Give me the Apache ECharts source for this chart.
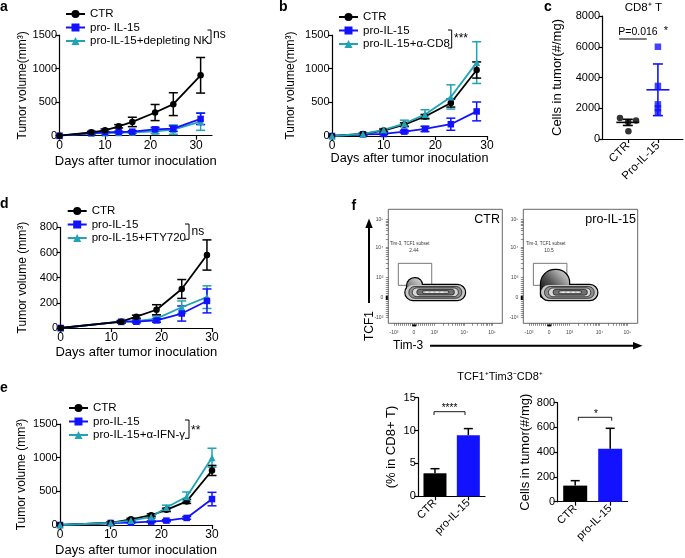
<!DOCTYPE html>
<html><head><meta charset="utf-8">
<script src="https://cdn.jsdelivr.net/npm/echarts@6/dist/echarts.min.js"></script>
<style>html,body{margin:0;padding:0;background:#fff}#c{width:685px;height:558px}</style>
</head><body><div id="c"></div>
<script>
// ---------- Panel a ----------
const aDays = [0, 7, 10, 13, 16, 21, 25, 31];
const aCTR = [0, 50, 80, 140, 205, 345, 470, 900];
const aCTRErr = [0, 15, 20, 25, 70, 120, 170, 265];
const aPro = [0, 40, 50, 55, 60, 95, 105, 250];
const aProErr = [0, 10, 10, 12, 15, 30, 40, 85];
const aNK = [0, 35, 40, 45, 50, 65, 90, 210];
const aNKErr = [0, 10, 10, 12, 15, 35, 70, 130];
const aNames = ['CTR', 'pro- IL-15', 'pro-IL-15+depleting NK'];
// ---------- Panel b ----------
const bDays = [0, 6, 10, 14, 18, 23, 28];
const bCTR = [0, 30, 80, 170, 290, 490, 980];
const bCTRErr = [0, 10, 20, 25, 30, 60, 120];
const bPro = [0, 25, 30, 65, 105, 175, 365];
const bProErr = [0, 10, 10, 20, 40, 90, 140];
const bCD8 = [0, 30, 90, 185, 320, 580, 1090];
const bCD8Err = [0, 10, 20, 50, 70, 180, 310];
const bNames = ['CTR', 'pro-IL-15', 'pro-IL-15+α-CD8'];
// ---------- Panel c ----------
const cGroups = ['CTR', 'Pro-IL-15'];
const cCTRPoints = [1360, 1100, 1210, 500];
const cProPoints = [6000, 3450, 2250, 2000, 1750];
const cMean = [1080, 3200];
const cSD = [200, 1680];
// ---------- Panel d ----------
const dDays = [0, 12, 15, 19, 24, 29];
const dCTR = [0, 50, 90, 145, 310, 580];
const dCTRErr = [0, 10, 12, 40, 75, 120];
const dPro = [0, 50, 50, 60, 115, 215];
const dProErr = [0, 8, 10, 15, 60, 95];
const dFTY = [0, 50, 55, 75, 165, 245];
const dFTYErr = [0, 8, 10, 20, 50, 90];
const dNames = ['CTR', 'pro-IL-15', 'pro-IL-15+FTY720'];
// ---------- Panel e ----------
const eDays = [0, 10, 14, 18, 21, 25, 30];
const eCTR = [0, 30, 85, 145, 225, 350, 810];
const eCTRErr = [0, 10, 15, 20, 25, 30, 75];
const ePro = [0, 30, 35, 50, 65, 105, 385];
const eProErr = [0, 10, 10, 12, 15, 20, 100];
const eIFN = [0, 30, 65, 120, 260, 420, 1000];
const eIFNErr = [0, 10, 15, 20, 35, 70, 140];
const eNames = ['CTR', 'pro-IL-15', 'pro-IL-15+α-IFN-γ'];
// ---------- Panel f bars ----------
const fGroups = ['CTR', 'pro-IL-15'];
const fPct = [3.5, 9.3];
const fPctErr = [0.7, 1.0];
const fCells = [130, 428];
const fCellsErr = [40, 165];
// ---------- Panel f flow plots (display units 0-100) ----------
const flowTickLabels = ['-10³', '0', '10³', '10⁴', '10⁵'];
const flowTickPos = [5, 22.5, 40.5, 66.7, 91];
const flowCtrBody = [[15, 67.3, 20.5, 33.6], [18, 64.5, 22, 32.3], [21, 61.5, 23.4, 31], [25, 58, 24.8, 29.8], [30, 53, 26, 28.6]];
const flowCtrBump = [16.5, 29.5, 26, 39.5];
const flowProBody = [[15.5, 64.7, 20.4, 33.6], [18.5, 62, 21.9, 32.3], [22, 59, 23.3, 31], [26, 56, 24.7, 29.8], [31, 51, 25.9, 28.6]];
const flowProBump = [15.5, 40, 23, 46.8];
const flowGate = [8.8, 38.1, 33.3, 52.6];
const flowGateValues = ['2.44', '10.5'];

// layout / style
const FONT = 'Arial, "Liberation Sans", sans-serif';
const BLACK = '#000', BLUE = '#1212ff', TEAL = '#1fa3b5';
const cX = [1.25, 2.75];
const cJitter = [-0.39, 0.02, 0.41, 0.03];
const barColors = [BLACK, BLUE];

const chart = echarts.init(document.getElementById('c'), null, {renderer: 'canvas'});

const axLine = {show: true, onZero: false, lineStyle: {color: '#000', width: 1.2}};
const axTick = (vals) => ({show: true, length: 4, customValues: vals, lineStyle: {color: '#000', width: 1.2}});
const dayTicks = [0, 10, 20, 30];
const plain = (v) => String(v);

function lineX(gi, max, nameGap, nameSize) {
  return {type: 'value', gridIndex: gi, min: 0, max: max, name: 'Days after tumor inoculation',
    nameLocation: 'middle', nameGap: nameGap, nameTextStyle: {fontSize: nameSize, color: '#000', fontFamily: FONT},
    axisLine: axLine, axisTick: axTick(dayTicks),
    axisLabel: {customValues: dayTicks, fontSize: 12, color: '#000', margin: 3.5, formatter: plain},
    splitLine: {show: false}};
}
function lineY(gi, max, interval, name, nameGap, nameSize) {
  return {type: 'value', gridIndex: gi, min: 0, max: max, interval: interval, name: name,
    nameLocation: 'middle', nameGap: nameGap, nameTextStyle: {fontSize: nameSize || 12, color: '#000', fontFamily: FONT},
    axisLine: axLine, axisTick: {show: true, length: 4, lineStyle: {color: '#000', width: 1.2}},
    axisLabel: {fontSize: 11, color: '#000', margin: 2.5, formatter: plain},
    splitLine: {show: false}};
}
function nearestIdx(v) {
  let best = 0;
  flowTickPos.forEach((p, i) => { if (Math.abs(p - v) < Math.abs(flowTickPos[best] - v)) best = i; });
  return best;
}
// minor ticks of biexponential display axis
const flowMinor = [];
for (let k = 0; k <= 20; k++) flowMinor.push(5 + k * (40.5 - 5) / 20);
[[40.5, 26.2], [66.7, 24.3]].forEach(([s, d]) => { for (let m = 2; m <= 10; m++) flowMinor.push(s + Math.log10(m) * d); });
function flowAxis(gi, isX) {
  return {type: 'value', gridIndex: gi, min: 0, max: 100,
    axisLine: {show: false}, splitLine: {show: false},
    axisTick: {show: true, length: 2.5, customValues: flowMinor, lineStyle: {color: '#444', width: 0.6}},
    axisLabel: {customValues: flowTickPos, fontSize: 5, color: '#444', margin: isX ? 6.5 : 5,
      formatter: (v) => flowTickLabels[nearestIdx(v)]}};
}
function barX(gi) {
  return {type: 'category', gridIndex: gi, data: fGroups, boundaryGap: true,
    axisLine: axLine, axisTick: {show: true, alignWithLabel: true, length: 4, lineStyle: {color: '#000', width: 1.2}},
    axisLabel: {rotate: 45, fontSize: 11, color: '#000', margin: 5}};
}

function lineSeries(name, gi, xs, ys, color, symbol) {
  return {type: 'line', name: name, xAxisIndex: gi, yAxisIndex: gi, data: xs.map((x, i) => [x, ys[i]]),
    symbol: symbol, symbolSize: symbol === 'triangle' ? 7 : 6.5, showSymbol: true,
    lineStyle: {color: color, width: 1.8}, itemStyle: {color: color}, z: 4, animation: false};
}
function errSeries(gi, xs, ys, errs, color, upperOnly) {
  return {type: 'custom', xAxisIndex: gi, yAxisIndex: gi, silent: true, z: 3, animation: false,
    data: xs.map((x, i) => [x, ys[i], errs[i]]),
    renderItem: function (params, api) {
      const x = api.value(0), y = api.value(1), e = api.value(2);
      if (!e) return null;
      const hi = api.coord([x, y + e]);
      const lo = api.coord([x, upperOnly ? y : y - e]);
      const w = 4.5;
      const st = {stroke: color, lineWidth: 1.5};
      const ch = [
        {type: 'line', shape: {x1: lo[0], y1: lo[1], x2: hi[0], y2: hi[1]}, style: st},
        {type: 'line', shape: {x1: hi[0] - w, y1: hi[1], x2: hi[0] + w, y2: hi[1]}, style: st}];
      if (!upperOnly) ch.push({type: 'line', shape: {x1: lo[0] - w, y1: lo[1], x2: lo[0] + w, y2: lo[1]}, style: st});
      return {type: 'group', children: ch};
    }};
}
function legend(names, left, top) {
  return {data: names, orient: 'vertical', left: left, top: top, padding: 0, itemGap: 1.5,
    itemWidth: 19, itemHeight: 10, textStyle: {fontSize: 11.5, color: '#000', fontFamily: FONT}, selectedMode: false};
}

function flowRender(body, bump, bumpFill, bodyFill) {
  return function (params, api) {
    const rr = (b) => {
      const p1 = api.coord([b[0], b[3]]), p2 = api.coord([b[1], b[2]]);
      return {x: p1[0], y: p1[1], width: p2[0] - p1[0], height: p2[1] - p1[1]};
    };
    const ch = [];
    const g = rr(flowGate);
    ch.push({type: 'rect', shape: g, style: {fill: 'none', stroke: '#555', lineWidth: 0.8}});
    const o = rr(body[0]); o.r = o.height / 2;
    const bp = rr(bump); const rt = Math.min(bp.width / 2, bp.height); bp.r = [rt, rt * 0.9, 2, 2];
    ch.push({type: 'rect', shape: bp, style: {fill: '#000', stroke: '#000', lineWidth: 2.4}});
    ch.push({type: 'rect', shape: o, style: {fill: '#000', stroke: '#000', lineWidth: 2.4}});
    ch.push({type: 'rect', shape: bp, style: {fill: bumpFill, stroke: null}});
    ch.push({type: 'rect', shape: o, style: {fill: bodyFill[0], stroke: null}});
    for (let i = 1; i < body.length; i++) {
      const s = rr(body[i]); s.r = s.height / 2;
      ch.push({type: 'rect', shape: s, style: {fill: bodyFill[i], stroke: '#222', lineWidth: 0.8}});
    }
    const inner = rr(body[body.length - 1]);
    ch.push({type: 'line', shape: {x1: inner.x + 3, y1: inner.y + inner.height / 2, x2: inner.x + inner.width - 3, y2: inner.y + inner.height / 2},
      style: {stroke: '#fff', lineWidth: 1, lineDash: [3, 2]}});
    // events piled on the axes
    const a1 = api.coord([-2.2, 24]);
    ch.push({type: 'rect', shape: {x: a1[0], y: a1[1], width: 2, height: 4}, style: {fill: '#000'}});
    const a2 = api.coord([21, -1]);
    ch.push({type: 'rect', shape: {x: a2[0], y: a2[1], width: 4, height: 2}, style: {fill: '#000'}});
    return {type: 'group', children: ch};
  };
}
const bodyFills = ['#c9c9c9', '#8f8f8f', '#d6d6d6', '#707070', '#bdbdbd'];
const ctrBumpFill = {type: 'linear', x: 0, y: 1, x2: 1, y2: 0, colorStops: [{offset: 0, color: '#555'}, {offset: 1, color: '#e0e0e0'}]};
const proBumpFill = {type: 'linear', x: 0, y: 1, x2: 1, y2: 0, colorStops: [{offset: 0, color: '#000'}, {offset: 0.45, color: '#555'}, {offset: 1, color: '#ececec'}]};

const option = {
  animation: false,
  textStyle: {fontFamily: FONT, color: '#000'},
  grid: [
    {left: 59.5, top: 35, width: 152.5, height: 100.7},
    {left: 332, top: 35, width: 155, height: 101},
    {left: 602.7, top: 16, width: 80.3, height: 123},
    {left: 60.7, top: 227.3, width: 151.3, height: 100.7},
    {left: 60, top: 424, width: 152, height: 101.3},
    {left: 388.3, top: 209.3, width: 114, height: 114, show: true, borderColor: '#666', borderWidth: 1},
    {left: 523.3, top: 209.3, width: 114.4, height: 114, show: true, borderColor: '#666', borderWidth: 1},
    {left: 418.3, top: 397.7, width: 66.7, height: 98.6},
    {left: 557.7, top: 402.7, width: 70, height: 99}
  ],
  xAxis: [
    lineX(0, 33.5, 19.5, 13),
    lineX(1, 30, 11, 12.7),
    {type: 'value', gridIndex: 2, min: 0, max: 4, axisLine: axLine, axisTick: axTick(cX),
      axisLabel: {customValues: cX, rotate: 45, fontSize: 11.5, color: '#000', margin: 5,
        formatter: (v) => cGroups[v < 2 ? 0 : 1]}, splitLine: {show: false}},
    lineX(3, 30, 17.5, 13),
    lineX(4, 30, 19, 13),
    flowAxis(5, true), flowAxis(6, true),
    barX(7), barX(8)
  ],
  yAxis: [
    lineY(0, 1500, 500, 'Tumor volume(mm³)', 31),
    lineY(1, 1500, 500, 'Tumor volume(mm³)', 35),
    lineY(2, 8000, 2000, 'Cells in tumor(#/mg)', 39, 13),
    lineY(3, 800, 200, 'Tumor volume (mm³)', 32.5),
    lineY(4, 1500, 500, 'Tumor volume (mm³)', 32),
    flowAxis(5, false), flowAxis(6, false),
    lineY(7, 15, 5, '(% in CD8+ T)', 20, 13),
    lineY(8, 800, 200, 'Cells in tumor(#/mg)', 26, 13)
  ],
  legend: [
    legend(aNames, 65, 8),
    legend(bNames, 338, 11),
    legend(dNames, 66.7, 205),
    legend(eNames, 68, 402)
  ],
  series: [
    // a
    errSeries(0, aDays, aNK, aNKErr, TEAL), errSeries(0, aDays, aPro, aProErr, BLUE), errSeries(0, aDays, aCTR, aCTRErr, BLACK),
    lineSeries(aNames[2], 0, aDays, aNK, TEAL, 'triangle'),
    lineSeries(aNames[1], 0, aDays, aPro, BLUE, 'rect'),
    lineSeries(aNames[0], 0, aDays, aCTR, BLACK, 'circle'),
    // b
    errSeries(1, bDays, bCD8, bCD8Err, TEAL), errSeries(1, bDays, bPro, bProErr, BLUE), errSeries(1, bDays, bCTR, bCTRErr, BLACK),
    lineSeries(bNames[1], 1, bDays, bPro, BLUE, 'rect'),
    lineSeries(bNames[0], 1, bDays, bCTR, BLACK, 'circle'),
    lineSeries(bNames[2], 1, bDays, bCD8, TEAL, 'triangle'),
    // c
    {type: 'custom', xAxisIndex: 2, yAxisIndex: 2, silent: true, z: 3,
      data: cMean.map((m, i) => [cX[i], m, cSD[i]]),
      renderItem: function (params, api) {
        const x = api.value(0), m = api.value(1), s = api.value(2);
        const pm = api.coord([x, m]), hi = api.coord([x, m + s]), lo = api.coord([x, m - s]);
        const col = barColors[params.dataIndex];
        const st = {stroke: col, lineWidth: 1.6};
        return {type: 'group', children: [
          {type: 'line', shape: {x1: pm[0] - 11.5, y1: pm[1], x2: pm[0] + 11.5, y2: pm[1]}, style: st},
          {type: 'line', shape: {x1: lo[0], y1: lo[1], x2: hi[0], y2: hi[1]}, style: st},
          {type: 'line', shape: {x1: hi[0] - 5, y1: hi[1], x2: hi[0] + 5, y2: hi[1]}, style: st},
          {type: 'line', shape: {x1: lo[0] - 5, y1: lo[1], x2: lo[0] + 5, y2: lo[1]}, style: st}]};
      }},
    {type: 'scatter', name: 'c_CTR', xAxisIndex: 2, yAxisIndex: 2, symbol: 'circle', symbolSize: 6.5,
      itemStyle: {color: BLACK}, z: 4, data: cCTRPoints.map((v, i) => [cX[0] + cJitter[i], v])},
    {type: 'scatter', name: 'c_Pro', xAxisIndex: 2, yAxisIndex: 2, symbol: 'rect', symbolSize: 6.5,
      itemStyle: {color: BLUE}, z: 4, data: cProPoints.map((v) => [cX[1], v])},
    // d
    errSeries(3, dDays, dFTY, dFTYErr, TEAL), errSeries(3, dDays, dPro, dProErr, BLUE), errSeries(3, dDays, dCTR, dCTRErr, BLACK),
    lineSeries(dNames[2], 3, dDays, dFTY, TEAL, 'triangle'),
    lineSeries(dNames[1], 3, dDays, dPro, BLUE, 'rect'),
    lineSeries(dNames[0], 3, dDays, dCTR, BLACK, 'circle'),
    // e
    errSeries(4, eDays, eIFN, eIFNErr, TEAL), errSeries(4, eDays, ePro, eProErr, BLUE), errSeries(4, eDays, eCTR, eCTRErr, BLACK),
    lineSeries(eNames[1], 4, eDays, ePro, BLUE, 'rect'),
    lineSeries(eNames[0], 4, eDays, eCTR, BLACK, 'circle'),
    lineSeries(eNames[2], 4, eDays, eIFN, TEAL, 'triangle'),
    // f flow
    {type: 'custom', xAxisIndex: 5, yAxisIndex: 5, silent: true, data: [[0, 0]], clip: false,
      renderItem: flowRender(flowCtrBody, flowCtrBump, ctrBumpFill, bodyFills)},
    {type: 'custom', xAxisIndex: 6, yAxisIndex: 6, silent: true, data: [[0, 0]], clip: false,
      renderItem: flowRender(flowProBody, flowProBump, proBumpFill, bodyFills)},
    // f bars
    {type: 'bar', xAxisIndex: 7, yAxisIndex: 7, barWidth: 23, z: 2,
      data: fPct.map((v, i) => ({value: v, itemStyle: {color: barColors[i]}}))},
    errSeries(7, [0, 1], fPct, fPctErr, BLACK, true),
    {type: 'bar', xAxisIndex: 8, yAxisIndex: 8, barWidth: 24, z: 2,
      data: fCells.map((v, i) => ({value: v, itemStyle: {color: barColors[i]}}))},
    errSeries(8, [0, 1], fCells, fCellsErr, BLACK, true)
  ],
  graphic: {elements: [
    // panel letters
    {type: 'text', x: 0, y: 7, style: {text: 'a', font: 'bold 14px ' + FONT, fill: '#000', verticalAlign: 'middle'}},
    {type: 'text', x: 279, y: 7.5, style: {text: 'b', font: 'bold 14px ' + FONT, fill: '#000', verticalAlign: 'middle'}},
    {type: 'text', x: 544, y: 7, style: {text: 'c', font: 'bold 14px ' + FONT, fill: '#000', verticalAlign: 'middle'}},
    {type: 'text', x: 0, y: 204, style: {text: 'd', font: 'bold 14px ' + FONT, fill: '#000', verticalAlign: 'middle'}},
    {type: 'text', x: 0, y: 388, style: {text: 'e', font: 'bold 14px ' + FONT, fill: '#000', verticalAlign: 'middle'}},
    {type: 'text', x: 351.5, y: 206, style: {text: 'f', font: 'bold 14px ' + FONT, fill: '#000', verticalAlign: 'middle'}},
    // significance brackets on line charts
    {type: 'polyline', shape: {points: [[207.5, 30], [211, 30], [211, 43.3], [207.5, 43.3]]}, style: {stroke: '#000', lineWidth: 1, fill: null}},
    {type: 'text', x: 213, y: 35, style: {text: 'ns', font: '12px ' + FONT, fill: '#000', verticalAlign: 'middle'}},
    {type: 'polyline', shape: {points: [[448, 30], [451.7, 30], [451.7, 48], [448, 48]]}, style: {stroke: '#000', lineWidth: 1, fill: null}},
    {type: 'text', x: 454, y: 39, style: {text: '***', font: '12px ' + FONT, fill: '#000', verticalAlign: 'middle'}},
    {type: 'polyline', shape: {points: [[185, 224], [189, 224], [189, 239.3], [185, 239.3]]}, style: {stroke: '#000', lineWidth: 1, fill: null}},
    {type: 'text', x: 191.5, y: 231.5, style: {text: 'ns', font: '12px ' + FONT, fill: '#000', verticalAlign: 'middle'}},
    {type: 'polyline', shape: {points: [[185, 420], [189, 420], [189, 438.3], [185, 438.3]]}, style: {stroke: '#000', lineWidth: 1, fill: null}},
    {type: 'text', x: 191, y: 431, style: {text: '**', font: '12px ' + FONT, fill: '#000', verticalAlign: 'middle'}},
    // panel c annotations
    {type: 'text', x: 643.3, y: 7.5, style: {text: 'CD8⁺ T', font: '11.5px ' + FONT, fill: '#000', align: 'center', verticalAlign: 'middle'}},
    {type: 'text', x: 638, y: 32, style: {text: 'P=0.016', font: '10.5px ' + FONT, fill: '#000', align: 'center', verticalAlign: 'middle'}},
    {type: 'line', shape: {x1: 619.3, y1: 39, x2: 646.7, y2: 39}, style: {stroke: '#000', lineWidth: 1}},
    {type: 'text', x: 666, y: 31, style: {text: '*', font: '11px ' + FONT, fill: '#000', align: 'center', verticalAlign: 'middle'}},
    // panel f flow annotations
    {type: 'text', x: 500, y: 220, style: {text: 'CTR', font: '12.5px ' + FONT, fill: '#000', align: 'right', verticalAlign: 'middle'}},
    {type: 'text', x: 636, y: 219.5, style: {text: 'pro-IL-15', font: '12.5px ' + FONT, fill: '#000', align: 'right', verticalAlign: 'middle'}},
    {type: 'text', x: 390, y: 243.3, style: {text: 'Tim-3, TCF1 subset', font: '4.5px ' + FONT, fill: '#333', verticalAlign: 'middle'}},
    {type: 'text', x: 414, y: 250.7, style: {text: flowGateValues[0], font: '4.8px ' + FONT, fill: '#333', align: 'center', verticalAlign: 'middle'}},
    {type: 'text', x: 526, y: 243.3, style: {text: 'Tim-3, TCF1 subset', font: '4.5px ' + FONT, fill: '#333', verticalAlign: 'middle'}},
    {type: 'text', x: 549, y: 250.7, style: {text: flowGateValues[1], font: '4.8px ' + FONT, fill: '#333', align: 'center', verticalAlign: 'middle'}},
    {type: 'line', shape: {x1: 369, y1: 303, x2: 369, y2: 226}, style: {stroke: '#000', lineWidth: 2}},
    {type: 'polygon', shape: {points: [[369, 218.5], [365.3, 228], [372.7, 228]]}, style: {fill: '#000'}},
    {type: 'text', x: 369.3, y: 326, rotation: Math.PI / 2, style: {text: 'TCF1', font: '12px ' + FONT, fill: '#000', align: 'center', verticalAlign: 'middle'}},
    {type: 'text', x: 393, y: 346, style: {text: 'Tim-3', font: '12px ' + FONT, fill: '#000', verticalAlign: 'middle'}},
    {type: 'line', shape: {x1: 430, y1: 345.7, x2: 635, y2: 345.7}, style: {stroke: '#000', lineWidth: 2}},
    {type: 'polygon', shape: {points: [[642.5, 345.7], [633, 342], [633, 349.4]]}, style: {fill: '#000'}},
    // bar annotations
    {type: 'text', x: 500, y: 377.3, style: {text: 'TCF1⁺Tim3⁻CD8⁺', font: '11px ' + FONT, fill: '#000', align: 'center', verticalAlign: 'middle'}},
    {type: 'polyline', shape: {points: [[434, 415], [434, 411.7], [465, 411.7], [465, 415]]}, style: {stroke: '#000', lineWidth: 0.9, fill: null}},
    {type: 'text', x: 449.5, y: 408.5, style: {text: '****', font: '10px ' + FONT, fill: '#000', align: 'center', verticalAlign: 'middle'}},
    {type: 'polyline', shape: {points: [[578.3, 420.7], [578.3, 417.3], [611.7, 417.3], [611.7, 420.7]]}, style: {stroke: '#000', lineWidth: 0.9, fill: null}},
    {type: 'text', x: 596, y: 414, style: {text: '*', font: '10px ' + FONT, fill: '#000', align: 'center', verticalAlign: 'middle'}}
  ]}
};
chart.setOption(option);
</script>
</body></html>
